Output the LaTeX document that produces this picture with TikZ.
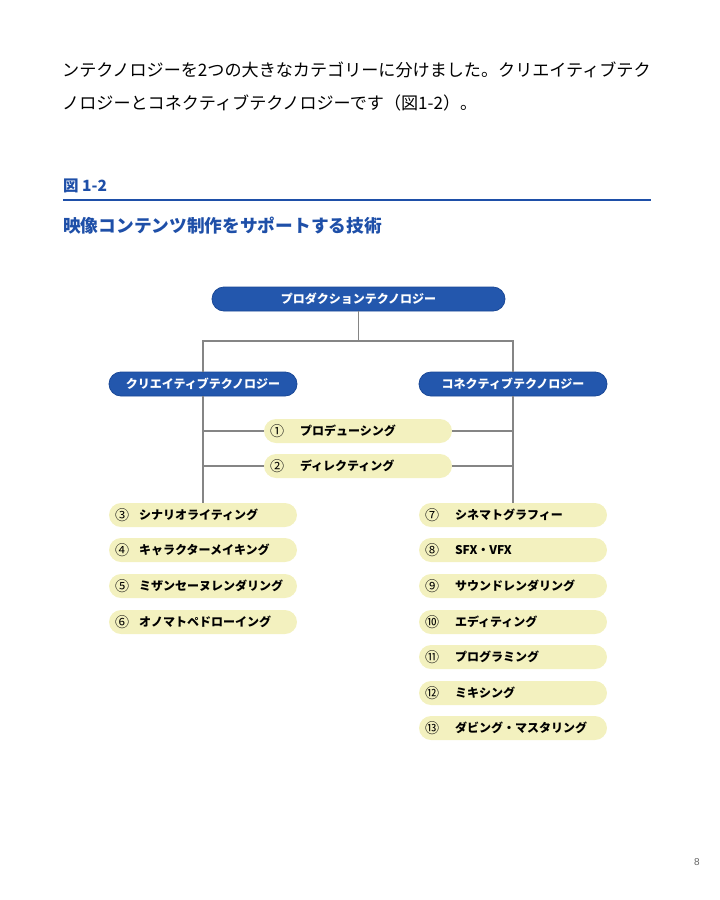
\documentclass[tikz,border=0pt]{standalone}
\usepackage{fontspec}
\setmainfont{Noto Sans CJK JP}
\newfontfamily\pagefont{Liberation Sans}
\definecolor{pillblue}{HTML}{2357AD}
\definecolor{pillblueedge}{HTML}{1A4896}
\definecolor{pillyellow}{HTML}{F3F1BF}
\definecolor{headblue}{HTML}{1E4FA8}
\definecolor{linegray}{HTML}{858585}
\begin{document}
\begin{tikzpicture}[x=1pt,y=-1pt,
  bluepill/.style={rounded corners=12pt, fill=pillblue, draw=pillblueedge, line width=0.8pt,
    minimum height=24pt, inner sep=0pt, text=white, font=\bfseries\fontsize{12}{12}\selectfont},
  yellowpill/.style={rounded corners=12pt, fill=pillyellow, minimum width=188pt,
    minimum height=24pt, inner sep=0pt},
  itemtext/.style={anchor=west, inner sep=0pt, font=\bfseries\fontsize{12}{12}\selectfont},
  itemnum/.style={anchor=west, inner sep=0pt, font=\fontsize{14}{14}\selectfont},
  conn/.style={draw=linegray, line width=1.2pt},
  bodytext/.style={anchor=west, inner sep=0pt, font=\fontsize{17.1}{17.1}\selectfont},
]
\useasboundingbox (0,0) rectangle (720,900);

% body text
\node[bodytext] (l1) at (62,70) {ンテクノロジーを2つの大きなカテゴリーに分けました。クリエイティブテク};
\node[bodytext] (l2) at (62,103) {ノロジーとコネクティブテクノロジーです（図1-2）。};

% heading
\node[anchor=west, inner sep=0pt, text=headblue, font=\bfseries\fontsize{15.5}{15.5}\selectfont] (fig) at (63,186) {図 1-2};
\coordinate (ruleL) at (63,200);
\coordinate (ruleR) at (651,200);
\draw[headblue, line width=2.6pt] (ruleL) -- (ruleR);
\node[anchor=west, inner sep=0pt, text=headblue, font=\bfseries\fontsize{17.7}{17.7}\selectfont] (title) at (63,226) {映像コンテンツ制作をサポートする技術};

% main nodes
\node[bluepill, minimum width=293pt] (top) at (358.5,299) {プロダクションテクノロジー};
\node[bluepill, minimum width=188pt] (cre) at (203,384) {クリエイティブテクノロジー};
\node[bluepill, minimum width=188pt] (con) at (513,384) {コネクティブテクノロジー};

% items
\node[yellowpill] (p1) at (358,431) {};
\node[yellowpill] (p2) at (358,466) {};
\node[yellowpill] (p3) at (203,515) {};
\node[yellowpill] (p4) at (203,550) {};
\node[yellowpill] (p5) at (203,586) {};
\node[yellowpill] (p6) at (203,622) {};
\node[yellowpill] (p7) at (513,515) {};
\node[yellowpill] (p8) at (513,550) {};
\node[yellowpill] (p9) at (513,586) {};
\node[yellowpill] (p10) at (513,622) {};
\node[yellowpill] (p11) at (513,657) {};
\node[yellowpill] (p12) at (513,693) {};
\node[yellowpill] (p13) at (513,728) {};

\foreach \n/\num in {p1/①, p2/②, p3/③, p4/④, p5/⑤, p6/⑥,
  p7/⑦, p8/⑧, p9/⑨, p10/⑩, p11/⑪, p12/⑫, p13/⑬}{
  \node[itemnum] (\n num) at ([xshift=6pt]\n.west) {\num};
}
\node[itemtext] (p1t) at ([xshift=36pt]p1.west) {プロデューシング};
\node[itemtext] (p2t) at ([xshift=36pt]p2.west) {ディレクティング};
\node[itemtext] (p3t) at ([xshift=30pt]p3.west) {シナリオライティング};
\node[itemtext] (p4t) at ([xshift=30pt]p4.west) {キャラクターメイキング};
\node[itemtext] (p5t) at ([xshift=30pt]p5.west) {ミザンセーヌレンダリング};
\node[itemtext] (p6t) at ([xshift=30pt]p6.west) {オノマトペドローイング};
\node[itemtext] (p7t) at ([xshift=36pt]p7.west) {シネマトグラフィー};
\node[itemtext] (p8t) at ([xshift=36pt]p8.west) {SFX・VFX};
\node[itemtext] (p9t) at ([xshift=36pt]p9.west) {サウンドレンダリング};
\node[itemtext] (p10t) at ([xshift=36pt]p10.west) {エディティング};
\node[itemtext] (p11t) at ([xshift=36pt]p11.west) {プログラミング};
\node[itemtext] (p12t) at ([xshift=36pt]p12.west) {ミキシング};
\node[itemtext] (p13t) at ([xshift=36pt]p13.west) {ダビング・マスタリング};

% connectors
\coordinate (j) at (358.5,341);
\draw[conn] (top.south) -- (j);
\draw[conn] (cre.north) -- (cre.north |- j) -- (con.north |- j) -- (con.north);
\draw[conn] (cre.south) -- (p3.north);
\draw[conn] (con.south) -- (p7.north);
\draw[conn] (p1.west) -- (p1.west -| cre.south);
\draw[conn] (p2.west) -- (p2.west -| cre.south);
\draw[conn] (p1.east) -- (p1.east -| con.south);
\draw[conn] (p2.east) -- (p2.east -| con.south);

% page number
\node[inner sep=0pt, text=black!60, font=\pagefont\fontsize{10}{10}\selectfont] (pg) at (697,862) {8};
\end{tikzpicture}
\end{document}
